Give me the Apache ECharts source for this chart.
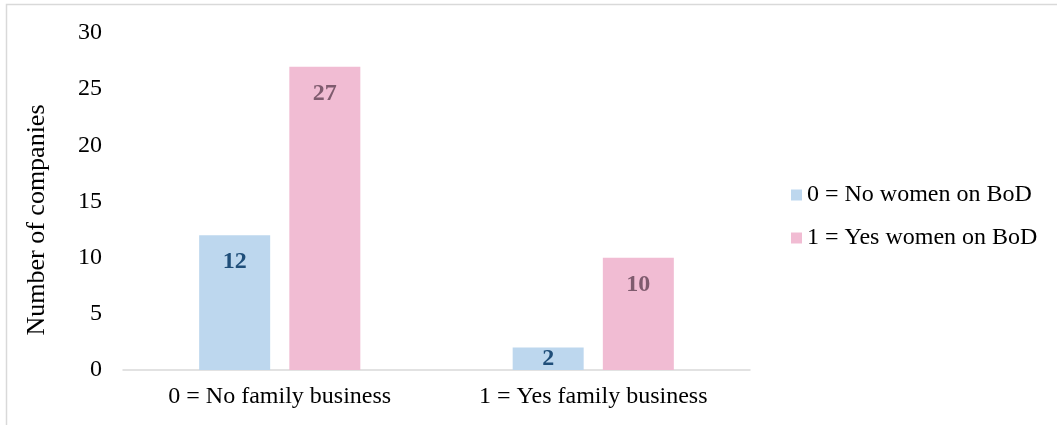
<!DOCTYPE html>
<html>
<head>
<meta charset="utf-8">
<script src="https://cdn.jsdelivr.net/npm/echarts@6/dist/echarts.min.js"></script>
<style>
  html, body { margin: 0; padding: 0; background: #fff; }
  #chart { width: 1057px; height: 425px; }
</style>
</head>
<body>
<div id="chart"></div>
<script>
// Company counts by family-business status, split by presence of women on the board
const categories = ['0 = No family business', '1 = Yes family business'];
const seriesNames = ['0 = No women on BoD', '1 = Yes women on BoD'];
const noWomen = [12, 2];
const yesWomen = [27, 10];
const yTicks = [0, 5, 10, 15, 20, 25, 30];
const yTitle = 'Number of companies';

const FONT = '"Liberation Serif", "Times New Roman", serif';
const BLUE = '#BDD7EE';
const PINK = '#F1BCD3';

function labelled(values) {
  return values.map(v => ({
    value: v,
    // very short bars keep their label centred in the bar
    label: v < 5 ? { position: 'inside' } : undefined
  }));
}

const chart = echarts.init(document.getElementById('chart'), null, { renderer: 'canvas' });

chart.setOption({
  animation: false,
  backgroundColor: '#fff',
  textStyle: { fontFamily: FONT },
  graphic: [
    {
      type: 'rect',
      shape: { x: 6.5, y: 4.5, width: 1060, height: 440 },
      style: { fill: 'none', stroke: '#D9D9D9', lineWidth: 1.5 },
      silent: true
    },
    {
      type: 'text',
      x: 37, y: 220,
      rotation: Math.PI / 2,
      style: {
        text: yTitle,
        fontFamily: FONT,
        fontSize: 26,
        fill: '#000',
        align: 'center',
        verticalAlign: 'middle'
      }
    }
  ],
  legend: {
    orient: 'vertical',
    left: 791,
    top: 183,
    padding: 0,
    itemWidth: 11,
    itemHeight: 11,
    itemGap: 19,
    icon: 'rect',
    data: seriesNames,
    textStyle: { fontFamily: FONT, fontSize: 24, color: '#000', padding: [0, 0, 0, 0] }
  },
  grid: { left: 123, right: 307, top: 33, bottom: 55, containLabel: false },
  xAxis: {
    type: 'category',
    data: categories,
    axisLine: { show: true, lineStyle: { color: '#D9D9D9', width: 1.5 } },
    axisTick: { show: false },
    axisLabel: { fontFamily: FONT, fontSize: 24, color: '#000', margin: 15 },
    splitLine: { show: false }
  },
  yAxis: {
    type: 'value',
    min: yTicks[0],
    max: yTicks[yTicks.length - 1],
    interval: yTicks[1] - yTicks[0],
    axisLine: { show: false },
    axisTick: { show: false },
    splitLine: { show: false },
    axisLabel: { fontFamily: FONT, fontSize: 24, color: '#000', margin: 21 }
  },
  series: [
    {
      name: seriesNames[0],
      type: 'bar',
      data: labelled(noWomen),
      barWidth: 71,
      barGap: '27%',
      itemStyle: { color: BLUE },
      label: {
        show: true,
        position: 'insideTop',
        distance: 15,
        fontFamily: FONT,
        fontSize: 24,
        fontWeight: 'bold',
        color: '#1F4E79'
      }
    },
    {
      name: seriesNames[1],
      type: 'bar',
      data: labelled(yesWomen),
      barWidth: 71,
      barGap: '27%',
      itemStyle: { color: PINK },
      label: {
        show: true,
        position: 'insideTop',
        distance: 15,
        fontFamily: FONT,
        fontSize: 24,
        fontWeight: 'bold',
        color: '#7F5B6E'
      }
    }
  ]
});
</script>
</body>
</html>
